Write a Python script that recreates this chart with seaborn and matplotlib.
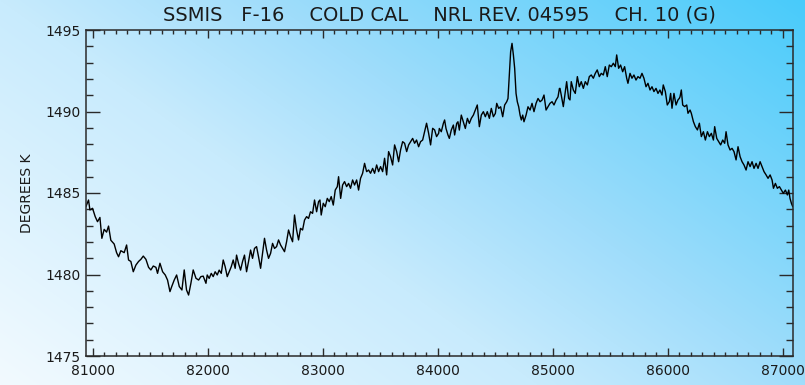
import numpy as np
import pandas as pd
import matplotlib
matplotlib.use("Agg")
import matplotlib.pyplot as plt
from matplotlib.ticker import MultipleLocator
import seaborn as sns

sns.set_style("ticks")
plt.rcParams['font.family'] = ['DejaVu Sans']

# --- dados (scan x temperatura) ---
scan = [
    80939, 80962, 80974, 80997, 81020, 81040, 81061, 81078, 81098, 81119,
    81136, 81156, 81185, 81206, 81223, 81243, 81272, 81293, 81310, 81330,
    81351, 81374, 81397, 81417, 81438, 81461, 81484, 81504, 81525, 81548,
    81562, 81583, 81606, 81629, 81649, 81670, 81687, 81707, 81728, 81751,
    81774, 81794, 81814, 81832, 81852, 81872, 81896, 81919, 81939, 81959,
    81983,
    81994, 82011, 82029, 82046, 82063, 82081, 82098, 82116, 82133, 82150,
    82168, 82185, 82203, 82220, 82237, 82249, 82266, 82284, 82301, 82318,
    82336, 82353, 82371, 82388, 82405, 82423, 82440, 82458, 82475, 82492,
    82510, 82527, 82545, 82562, 82579, 82597, 82614, 82632, 82649, 82666,
    82684, 82701, 82719, 82736, 82753, 82771, 82788, 82805, 82823, 82840,
    82858, 82875, 82892, 82910, 82927, 82945, 82962,
    82974, 82985, 83003, 83020, 83038, 83055, 83072, 83090, 83107, 83125,
    83136, 83154, 83171, 83188, 83206, 83223, 83240, 83258, 83275, 83293,
    83310, 83327, 83345, 83362, 83380, 83397, 83414, 83432, 83449, 83467,
    83484, 83501, 83519, 83536, 83554, 83571, 83588, 83606, 83623, 83641,
    83658, 83675, 83693, 83710, 83728, 83745, 83762, 83780, 83797, 83814,
    83832, 83849, 83867, 83884, 83901, 83919, 83936, 83954, 83971, 83988,
    84006,
    84012, 84029, 84047, 84058, 84070, 84087, 84099, 84116, 84134, 84145,
    84163, 84174, 84186, 84203, 84221, 84238, 84256, 84273, 84290, 84308,
    84325, 84342, 84360, 84377, 84395, 84412, 84429, 84447, 84464, 84482,
    84499, 84511, 84528, 84545, 84563, 84580, 84598, 84609, 84621, 84632,
    84644, 84656, 84667, 84679, 84690, 84702, 84714, 84725, 84737, 84748,
    84766, 84783, 84801, 84818, 84835, 84853, 84870, 84888, 84905, 84922,
    84940, 84957, 84974, 84992, 85009, 85027, 85044, 85056,
    85061, 85072, 85090, 85107, 85119, 85136, 85148, 85159, 85177, 85194,
    85212, 85229, 85246, 85264, 85281, 85299, 85316, 85333, 85351, 85368,
    85385, 85403, 85420, 85438, 85455, 85472, 85490, 85507, 85525, 85542,
    85554, 85571, 85588, 85606, 85623, 85641, 85652, 85670, 85687, 85704,
    85722, 85739, 85757, 85774, 85791, 85809, 85826, 85844, 85861, 85878,
    85896, 85913, 85930, 85948, 85959, 85977, 85994, 86012, 86023, 86035,
    86052, 86070, 86087, 86099,
    86105, 86116, 86128, 86145, 86163, 86174, 86192, 86203, 86221, 86238,
    86256, 86273, 86290, 86308, 86325, 86343, 86360, 86377, 86395, 86406,
    86424, 86441, 86458, 86476, 86493, 86505, 86522, 86540, 86557, 86574,
    86592, 86609, 86627, 86644, 86661, 86679, 86696, 86714, 86731, 86748,
    86766, 86783, 86801, 86818, 86835, 86853, 86870, 86888, 86905, 86917,
    86934, 86951, 86969, 86986, 87003, 87021, 87038, 87050, 87061, 87073,
    87085,
]

temp_k = [
    1484.16, 1484.57, 1483.96, 1484.06, 1483.55, 1483.24, 1483.50, 1482.22, 1482.77, 1482.60,
    1482.97, 1482.10, 1481.87, 1481.34, 1481.09, 1481.46, 1481.34, 1481.81, 1480.89, 1480.80,
    1480.17, 1480.58, 1480.80, 1480.93, 1481.13, 1480.93, 1480.44, 1480.28, 1480.52, 1480.44,
    1480.07, 1480.69, 1480.17, 1479.97, 1479.66, 1478.95, 1479.29, 1479.66, 1479.97, 1479.26,
    1479.05, 1480.28, 1479.05, 1478.74, 1479.46, 1480.28, 1479.77, 1479.66, 1479.87, 1479.90,
    1479.46,
    1479.97, 1479.76, 1480.07, 1479.87, 1480.17, 1479.97, 1480.27, 1480.07, 1480.89, 1480.48,
    1479.87, 1480.17, 1480.48, 1480.89, 1480.38, 1481.19, 1480.68, 1480.27, 1480.79, 1481.19,
    1480.17, 1480.79, 1481.50, 1480.99, 1481.60, 1481.71, 1481.09, 1480.38, 1481.30, 1482.22,
    1481.50, 1480.99, 1481.30, 1481.91, 1481.60, 1481.71, 1482.12, 1481.81, 1481.60, 1481.40,
    1482.01, 1482.73, 1482.32, 1482.01, 1483.65, 1482.73, 1482.12, 1482.83, 1482.73, 1483.34,
    1483.55, 1483.44, 1483.85, 1483.75, 1484.57, 1483.85, 1484.47,
    1484.57, 1483.65, 1484.37, 1484.16, 1484.67, 1484.47, 1484.78, 1484.26, 1485.18, 1485.39,
    1486.00, 1484.67, 1485.49, 1485.70, 1485.39, 1485.59, 1485.29, 1485.80, 1485.49, 1485.80,
    1485.18, 1485.90, 1486.21, 1486.82, 1486.31, 1486.41, 1486.21, 1486.51, 1486.21, 1486.72,
    1486.31, 1486.62, 1486.31, 1487.13, 1486.11, 1487.54, 1487.23, 1486.72, 1487.95, 1487.54,
    1486.92, 1487.64, 1488.15, 1488.05, 1487.54, 1487.95, 1488.15, 1488.35, 1488.05, 1488.25,
    1487.84, 1488.15, 1488.25, 1488.76, 1489.28, 1488.66, 1487.95, 1488.97, 1488.87, 1488.46,
    1488.66,
    1488.96, 1488.76, 1489.27, 1489.48, 1488.96, 1488.56, 1488.35, 1488.86, 1489.17, 1488.56,
    1489.27, 1489.37, 1488.86, 1489.78, 1489.37, 1488.96, 1489.58, 1489.27, 1489.58, 1489.78,
    1490.09, 1490.40, 1489.07, 1489.78, 1489.99, 1489.68, 1489.99, 1489.58, 1490.19, 1489.68,
    1489.88, 1490.50, 1490.19, 1490.29, 1489.68, 1490.40, 1490.60, 1490.80, 1492.24, 1493.67,
    1494.18, 1493.46, 1492.65, 1491.11, 1490.60, 1490.29, 1489.78, 1489.48, 1489.78, 1489.37,
    1489.78, 1490.29, 1490.09, 1490.50, 1489.99, 1490.50, 1490.80, 1490.60, 1490.70, 1491.01,
    1490.09, 1490.29, 1490.50, 1490.60, 1490.40, 1490.70, 1490.90, 1491.41,
    1491.42, 1491.01, 1490.30, 1491.22, 1491.83, 1490.81, 1490.71, 1491.83, 1491.32, 1491.11,
    1492.14, 1491.52, 1491.83, 1491.42, 1491.83, 1491.63, 1492.14, 1492.24, 1492.04, 1492.34,
    1492.55, 1492.14, 1492.34, 1492.24, 1492.75, 1492.14, 1492.85, 1492.75, 1492.96, 1492.75,
    1493.47, 1492.65, 1492.85, 1492.44, 1492.75, 1492.04, 1491.73, 1492.34, 1492.04, 1492.24,
    1491.93, 1492.14, 1492.04, 1492.34, 1492.04, 1491.52, 1491.73, 1491.32, 1491.52, 1491.22,
    1491.42, 1491.11, 1491.32, 1491.01, 1491.63, 1491.22, 1490.40, 1490.61, 1491.11, 1490.20,
    1491.11, 1490.40, 1490.71, 1490.81,
    1490.91, 1491.32, 1490.40, 1490.30, 1490.40, 1489.89, 1490.09, 1489.89, 1489.38,
    1489.07, 1488.87, 1489.28, 1488.46, 1488.76, 1488.25, 1488.76, 1488.46, 1488.66, 1488.25,
    1489.07, 1488.35, 1488.15, 1487.95, 1488.25, 1488.05, 1488.76, 1487.95, 1487.64, 1487.74,
    1487.54, 1487.03, 1487.84, 1487.23, 1486.92, 1486.72, 1486.41, 1486.92, 1486.62, 1486.92,
    1486.51, 1486.82, 1486.51, 1486.92, 1486.62, 1486.31, 1486.11, 1485.90, 1486.11, 1485.80,
    1485.29, 1485.59, 1485.29, 1485.39, 1485.18, 1484.98, 1485.18, 1484.88, 1485.18, 1484.67,
    1484.37, 1484.16,
]

titulo = "SSMIS   F-16    COLD CAL    NRL REV. 04595    CH. 10 (G)"
x_ticks = [81000, 82000, 83000, 84000, 85000, 86000, 87000]
y_ticks = [1475, 1480, 1485, 1490, 1495]

df = pd.DataFrame({"scan": scan, "temp": temp_k})

fig = plt.figure(figsize=(8.05, 3.85), dpi=100)

# fundo em degrade diagonal (claro embaixo a esquerda, ciano em cima a direita)
bg = fig.add_axes([0, 0, 1, 1], zorder=-10)
pos = [0.0, 0.4, 0.5, 0.6, 1.0]
cores = np.array([[0xf2, 0xfa, 0xff], [0xc8, 0xeb, 0xfd], [0xb4, 0xe4, 0xfc],
                  [0xa0, 0xdd, 0xfb], [0x48, 0xcb, 0xfa]]) / 255
u = np.linspace(0, 1, 400)[None, :]
v = np.linspace(0, 1, 200)[:, None]   # 0 = topo
t = 0.6 * u + 0.4 * (1 - v)
img = np.stack([np.interp(t, pos, cores[:, k]) for k in range(3)], axis=-1)
bg.imshow(img, aspect='auto', extent=[0, 1, 0, 1], interpolation='bilinear')
bg.axis('off')

ax = fig.add_axes([86 / 805, 1 - 356 / 385, (793 - 86) / 805, (356 - 30) / 385])
ax.set_facecolor('none')
sns.lineplot(data=df, x='scan', y='temp', ax=ax, color='black',
             linewidth=1.0, sort=False, estimator=None)

ax.set_xlim(80940, 87087)
ax.set_ylim(1475, 1495)
ax.set_xticks(x_ticks)
ax.set_yticks(y_ticks)
ax.xaxis.set_minor_locator(MultipleLocator(100))
ax.yaxis.set_minor_locator(MultipleLocator(1))

ink = '#1a1a1a'
for s in ax.spines.values():
    s.set_visible(True)
    s.set_linewidth(1.1)
    s.set_color('#2a2a2a')
ax.tick_params(which='both', direction='in', top=True, right=True,
               colors='#2a2a2a', width=1.0, labelcolor=ink, labelsize=10)
ax.tick_params(axis='x', which='major', length=6, pad=6)
ax.tick_params(axis='x', which='minor', length=3)
ax.tick_params(axis='y', which='major', length=10, pad=4)
ax.tick_params(axis='y', which='minor', length=5)

ax.set_xlabel('')
ax.set_ylabel('DEGREES K', fontsize=10, color=ink)
ax.yaxis.set_label_coords(-0.074, 0.5)
ax.set_title(titulo, fontsize=14, color=ink, pad=7)

plt.savefig('out.png', dpi=100)
